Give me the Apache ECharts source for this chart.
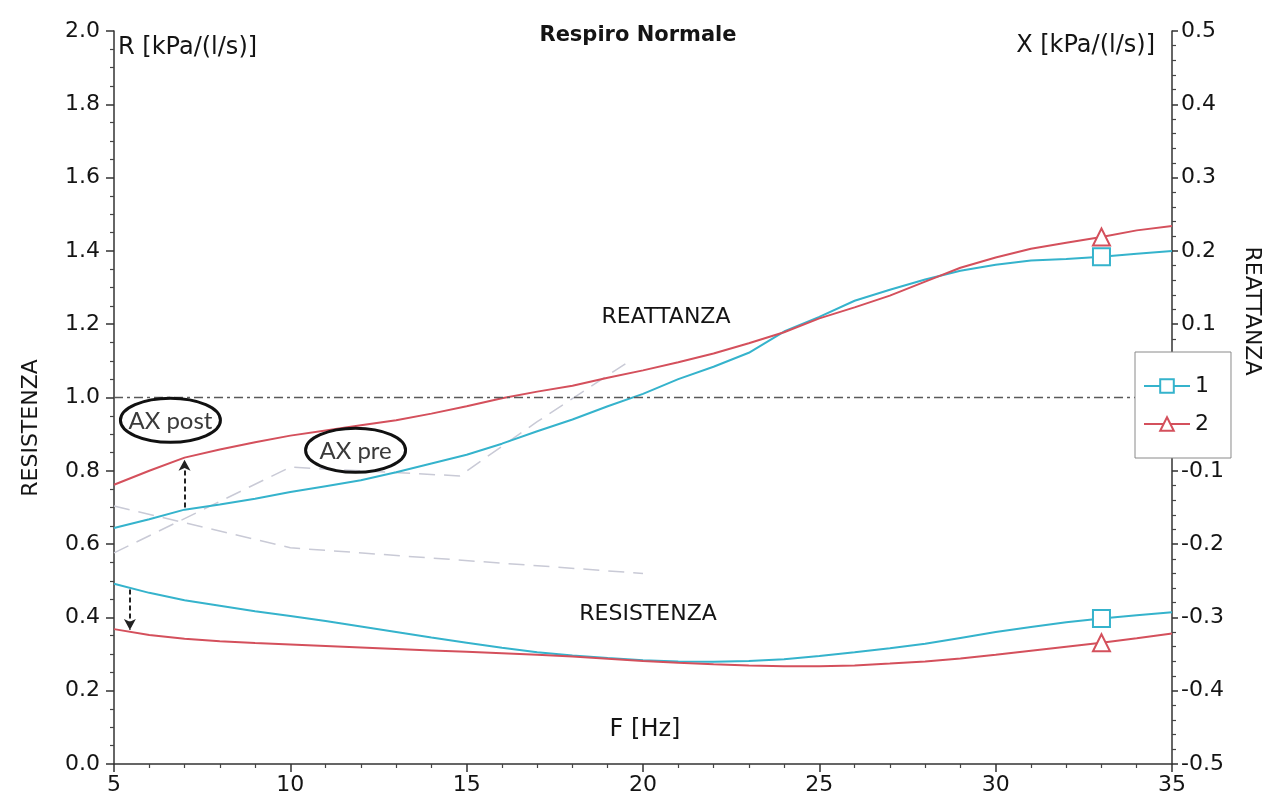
<!DOCTYPE html>
<html>
<head>
<meta charset="utf-8">
<script src="https://cdn.jsdelivr.net/npm/echarts@6/dist/echarts.min.js"></script>
<style>
  html, body { margin: 0; padding: 0; background: #ffffff; }
  #chart { width: 1268px; height: 803px; }
</style>
</head>
<body>
<div id="chart"></div>
<script>
// Frequencies (Hz)
const freq = [5, 6, 7, 8, 9, 10, 11, 12, 13, 14, 15, 16, 17, 18, 19, 20,
              21, 22, 23, 24, 25, 26, 27, 28, 29, 30, 31, 32, 33, 34, 35];

// Reactance X [kPa/(l/s)] – right axis
const reactance1 = [-0.178, -0.166, -0.153, -0.146, -0.138, -0.129, -0.121, -0.113, -0.102, -0.090,
                    -0.078, -0.063, -0.046, -0.030, -0.012, 0.005, 0.025, 0.042, 0.061, 0.090,
                    0.110, 0.132, 0.147, 0.161, 0.173, 0.181, 0.187, 0.189, 0.192, 0.196, 0.200];
const reactance2 = [-0.119, -0.100, -0.082, -0.071, -0.061, -0.052, -0.045, -0.038, -0.031, -0.022,
                    -0.012, -0.001, 0.008, 0.016, 0.027, 0.037, 0.048, 0.060, 0.074, 0.089,
                    0.108, 0.123, 0.139, 0.158, 0.177, 0.191, 0.203, 0.211, 0.219, 0.228, 0.234];

// Resistance R [kPa/(l/s)] – left axis
const resistance1 = [0.492, 0.467, 0.447, 0.432, 0.417, 0.404, 0.390, 0.375, 0.360, 0.345,
                     0.331, 0.317, 0.305, 0.296, 0.289, 0.283, 0.280, 0.279, 0.281, 0.286,
                     0.295, 0.305, 0.316, 0.328, 0.344, 0.360, 0.374, 0.387, 0.397, 0.406, 0.414];
const resistance2 = [0.368, 0.352, 0.342, 0.335, 0.330, 0.326, 0.322, 0.318, 0.314, 0.310,
                     0.306, 0.302, 0.298, 0.293, 0.287, 0.281, 0.276, 0.272, 0.269, 0.267,
                     0.267, 0.269, 0.274, 0.280, 0.288, 0.298, 0.309, 0.320, 0.331, 0.343, 0.356];

// Frequency where the curve symbols are drawn
const markerFreq = 33;

// Faint dashed reference traces (reactance scale)
const guideAFreq = [5, 10, 14.8, 17, 19.5];
const guideAX    = [-0.212, -0.095, -0.107, -0.033, 0.046];
const guideBFreq = [5, 10, 20];
const guideBX    = [-0.148, -0.205, -0.240];

// Axis ranges / tick steps
const rAxis = { min: 0, max: 2, step: 0.2 };
const xAxisRange = { min: 5, max: 35, step: 5 };
const xrAxis = { min: -0.5, max: 0.5, step: 0.1 };

const CYAN = '#35b3cc';
const RED = '#d4505c';
const FONT = 'DejaVu Sans';

function curve(vals, f0) {
  return freq.map((f, i) => f === f0
    ? { value: [f, vals[i]] }
    : { value: [f, vals[i]], symbol: 'none' });
}
function pairs(xs, ys) { return xs.map((x, i) => [x, ys[i]]); }
function interp(vals, f) {
  for (let i = 0; i < freq.length - 1; i++) {
    if (f >= freq[i] && f <= freq[i + 1]) {
      const t = (f - freq[i]) / (freq[i + 1] - freq[i]);
      return vals[i] + t * (vals[i + 1] - vals[i]);
    }
  }
  return vals[vals.length - 1];
}
// dashed arrow between two curves at a given frequency
function arrowBetween(fromVals, toVals, f) {
  const a = interp(fromVals, f), b = interp(toVals, f);
  const d = b - a;
  return [[{ coord: [f, a + d * 0.04] }, { coord: [f, b - d * 0.04] }]];
}

const arrowLine = {
  silent: true,
  symbol: ['none', 'arrow'],
  symbolSize: [9, 11],
  label: { show: false },
  lineStyle: { color: '#222', type: [5, 3], width: 2 }
};

const axisCommon = {
  axisLine: { show: true, lineStyle: { color: '#333', width: 1.5 } },
  axisTick: { show: true, length: 8, lineStyle: { color: '#333', width: 1.5 } },
  minorTick: { show: true, length: 4, lineStyle: { color: '#444', width: 1.2 } },
  splitLine: { show: false },
  axisLabel: { color: '#141414', fontFamily: FONT, fontSize: 22 }
};

const chart = echarts.init(document.getElementById('chart'), null, { renderer: 'canvas' });

chart.setOption({
  animation: false,
  backgroundColor: '#ffffff',
  grid: { left: 114, right: 96, top: 31, bottom: 39, containLabel: false },
  legend: {
    data: ['1', '2'],
    orient: 'vertical',
    left: 1135, top: 352,
    padding: [23, 22, 23, 8],
    itemWidth: 46, itemHeight: 17, itemGap: 16,
    backgroundColor: '#ffffff',
    borderColor: '#8a8a8a', borderWidth: 1,
    z: 20,
    textStyle: { fontFamily: FONT, fontSize: 22, color: '#141414' }
  },
  xAxis: Object.assign({}, axisCommon, {
    type: 'value', min: xAxisRange.min, max: xAxisRange.max, interval: xAxisRange.step,
    minorTick: Object.assign({}, axisCommon.minorTick, { splitNumber: 5 }),
    axisLabel: Object.assign({}, axisCommon.axisLabel, { margin: 10 })
  }),
  yAxis: [
    Object.assign({}, axisCommon, {
      type: 'value', position: 'left', min: rAxis.min, max: rAxis.max, interval: rAxis.step,
      minorTick: Object.assign({}, axisCommon.minorTick, { splitNumber: 4 }),
      axisLabel: Object.assign({}, axisCommon.axisLabel, { margin: 14, formatter: v => v.toFixed(1) })
    }),
    Object.assign({}, axisCommon, {
      type: 'value', position: 'right', min: xrAxis.min, max: xrAxis.max, interval: xrAxis.step,
      axisTick: Object.assign({}, axisCommon.axisTick, { length: 6 }),
      minorTick: Object.assign({}, axisCommon.minorTick, { splitNumber: 5 }),
      axisLabel: Object.assign({}, axisCommon.axisLabel, { margin: 9, formatter: v => v.toFixed(1) })
    })
  ],
  series: [
    {
      type: 'line', name: 'guideA', yAxisIndex: 1, data: pairs(guideAFreq, guideAX),
      symbol: 'none', silent: true, z: 1,
      lineStyle: { color: '#c9cad6', width: 1.5, type: [16, 9] },
      markLine: {
        silent: true, symbol: 'none', label: { show: false },
        lineStyle: { color: '#5a5a5a', width: 1.3, type: [9, 4, 3, 4] },
        data: [{ yAxis: 0 }]
      }
    },
    {
      type: 'line', name: 'guideB', yAxisIndex: 1, data: pairs(guideBFreq, guideBX),
      symbol: 'none', silent: true, z: 1,
      lineStyle: { color: '#c9cad6', width: 1.5, type: [16, 9] }
    },
    {
      type: 'line', name: '1', yAxisIndex: 1, data: curve(reactance1, markerFreq),
      symbol: 'emptyRect', symbolSize: 17, showSymbol: true,
      color: CYAN, lineStyle: { color: CYAN, width: 2 }, itemStyle: { color: CYAN, borderWidth: 2 },
      markLine: Object.assign({}, arrowLine, { data: arrowBetween(reactance1, reactance2, 7) })
    },
    {
      type: 'line', name: '2', yAxisIndex: 1, data: curve(reactance2, markerFreq),
      symbol: 'emptyTriangle', symbolSize: 17, showSymbol: true,
      color: RED, lineStyle: { color: RED, width: 2 }, itemStyle: { color: RED, borderWidth: 2 }
    },
    {
      type: 'line', name: '1', yAxisIndex: 0, data: curve(resistance1, markerFreq),
      symbol: 'emptyRect', symbolSize: 17, showSymbol: true,
      color: CYAN, lineStyle: { color: CYAN, width: 2 }, itemStyle: { color: CYAN, borderWidth: 2 },
      markLine: Object.assign({}, arrowLine, { data: arrowBetween(resistance1, resistance2, 5.45) })
    },
    {
      type: 'line', name: '2', yAxisIndex: 0, data: curve(resistance2, markerFreq),
      symbol: 'emptyTriangle', symbolSize: 17, showSymbol: true,
      color: RED, lineStyle: { color: RED, width: 2 }, itemStyle: { color: RED, borderWidth: 2 }
    }
  ]
});

// Text labels and hand-drawn style annotations
function txt(id, text, x, y, size, opts) {
  return Object.assign({
    type: 'text', id: id, x: x, y: y, z: 30, silent: true,
    style: Object.assign({
      text: text, fill: '#141414',
      font: (opts && opts.weight ? opts.weight + ' ' : '') + size + 'px "' + FONT + '"',
      align: 'center', verticalAlign: 'middle'
    }, opts && opts.style)
  }, opts && opts.el);
}

const postC = chart.convertToPixel({ xAxisIndex: 0, yAxisIndex: 1 }, [6.6, -0.031]);
const preC = chart.convertToPixel({ xAxisIndex: 0, yAxisIndex: 1 }, [11.85, -0.072]);

function bubble(id, label, c) {
  return [
    { type: 'ellipse', id: id + '_e', z: 30, silent: true,
      shape: { cx: c[0], cy: c[1], rx: 50, ry: 22 },
      style: { fill: 'rgba(255,255,255,0)', stroke: '#111', lineWidth: 3 } },
    { type: 'text', id: id + '_t', z: 31, silent: true, x: c[0], y: c[1] + 1,
      style: { text: label, fill: '#3a3a3a', font: '24px "Lato"', align: 'center', verticalAlign: 'middle' } }
  ];
}

chart.setOption({
  graphic: [
    txt('title', 'Respiro Normale', 638, 36, 21, { weight: 'bold' }),
    txt('rname', 'R [kPa/(l/s)]', 118, 48, 24, { style: { align: 'left' } }),
    txt('xname', 'X [kPa/(l/s)]', 1155, 46, 24, { style: { align: 'right' } }),
    txt('rvert', 'RESISTENZA', 31, 428, 22, { el: { rotation: Math.PI / 2 } }),
    txt('xvert', 'REATTANZA', 1252, 311, 22, { el: { rotation: -Math.PI / 2 } }),
    txt('xin', 'REATTANZA', 666, 317, 22),
    txt('rin', 'RESISTENZA', 648, 614, 22),
    txt('fname', 'F [Hz]', 645, 730, 24)
  ].concat(bubble('post', 'AX post', postC), bubble('pre', 'AX pre', preC))
});
</script>
</body>
</html>
